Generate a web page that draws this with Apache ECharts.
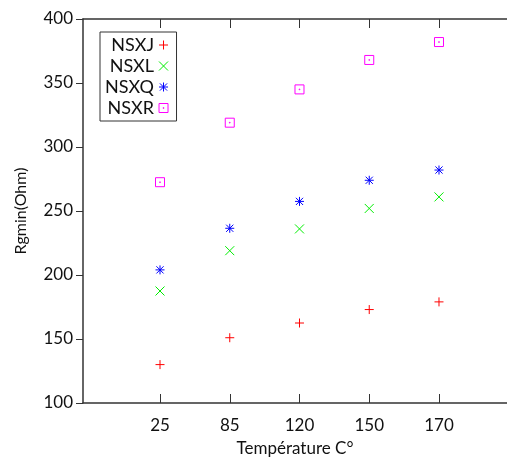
<!DOCTYPE html>
<html><head><meta charset="utf-8">
<script src="https://cdn.jsdelivr.net/npm/echarts@6/dist/echarts.min.js"></script>
<style>html,body{margin:0;padding:0;background:#fff}#c{width:507px;height:457px}</style>
</head><body><div id="c"></div>
<script>
const tickLabels = ['25', '85', '120', '150', '170'];
const seriesNames = ['NSXJ', 'NSXL', 'NSXQ', 'NSXR'];
const NSXJ = [130, 151, 162.5, 173, 179];
const NSXL = [187.5, 219, 236, 252, 261];
const NSXQ = [204, 236.5, 257.5, 274, 282];
const NSXR = [272.5, 319, 345, 368, 382];
const colors = ['#ff0000', '#00ee00', '#0000ff', '#ff00ff'];
const symbols = [
  'path://M5,0L5,10M0,5L10,5',
  'path://M0,0L10,10M0,10L10,0',
  'path://M5,0L5,10M0,5L10,5M1,1L9,9M1,9L9,1',
  'path://M0,0L10,0L10,10L0,10Z M4.6,4.6L5.4,4.6L5.4,5.4L4.6,5.4Z'
];
const allData = [NSXJ, NSXL, NSXQ, NSXR];
const font = 'Lato, "DejaVu Sans", sans-serif';
const chart = echarts.init(document.getElementById('c'));
const idx = tickLabels.map((_, i) => i);
const axisLineStyle = {color: '#333', width: 1.5};
chart.setOption({
  animation: false,
  grid: {left: 83, top: 19, right: 0, height: 384, containLabel: false, outerBoundsMode: 'none'},
  legend: {
    left: 100, top: 32, orient: 'vertical', align: 'right',
    backgroundColor: '#fff', borderColor: '#333', borderWidth: 1,
    padding: [4, 8, 4, 5], itemGap: 3, itemWidth: 9, itemHeight: 9,
    itemStyle: {borderWidth: 1},
    textStyle: {fontFamily: font, fontSize: 18, color: '#111'},
    data: seriesNames
  },
  xAxis: [{
    type: 'value', min: -1.104, max: 4.975, position: 'bottom',
    name: 'Température C°', nameLocation: 'middle', nameGap: 37,
    nameTextStyle: {fontFamily: font, fontSize: 17, color: '#111'},
    splitLine: {show: false},
    axisLine: {show: true, onZero: false, lineStyle: axisLineStyle},
    axisTick: {show: true, inside: true, length: 9, customValues: idx, lineStyle: {color: '#333'}},
    axisLabel: {customValues: idx, margin: 14, fontFamily: font, fontSize: 17, color: '#111',
      formatter: v => tickLabels[Math.round(v)]}
  }, {
    type: 'value', min: -1.104, max: 4.975, position: 'top',
    splitLine: {show: false},
    axisLine: {show: true, onZero: false, lineStyle: axisLineStyle},
    axisTick: {show: true, inside: true, length: 9, customValues: idx, lineStyle: {color: '#333'}},
    axisLabel: {show: false}
  }],
  yAxis: {
    type: 'value', min: 100, max: 400, interval: 50,
    name: 'Rgmin(Ohm)', nameLocation: 'middle', nameGap: 54,
    nameTextStyle: {fontFamily: font, fontSize: 16, color: '#111'},
    splitLine: {show: false},
    axisLine: {show: true, onZero: false, lineStyle: axisLineStyle},
    axisTick: {show: true, inside: false, length: 7, lineStyle: {color: '#333'}},
    axisLabel: {margin: 10, fontFamily: font, fontSize: 17, color: '#111'}
  },
  series: seriesNames.map((n, s) => ({
    name: n, type: 'scatter', symbol: symbols[s], symbolSize: 9,
    itemStyle: {color: 'rgba(0,0,0,0)', borderColor: colors[s], borderWidth: 1, opacity: 1},
    data: allData[s].map((v, i) => [i, v])
  }))
});
</script></body></html>
